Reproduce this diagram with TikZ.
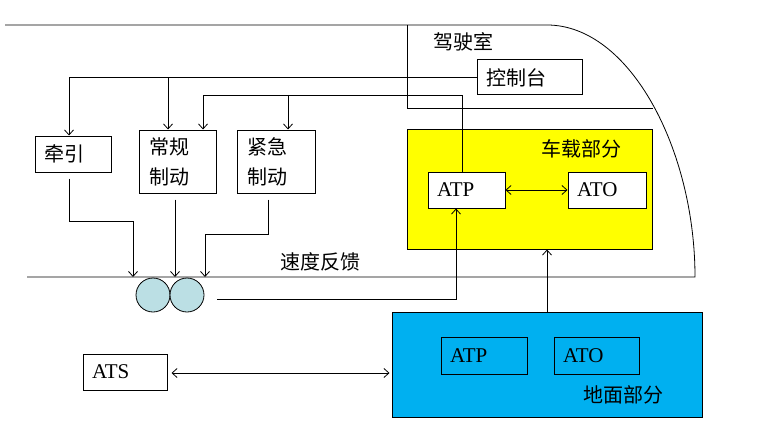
\documentclass[tikz,border=0pt]{standalone}
\usepackage{fontspec}
\setmainfont{Liberation Serif}
\newfontfamily\cjk{Noto Sans CJK SC}
\usetikzlibrary{arrows.meta}
\definecolor{groundblue}{HTML}{00B0F0}
\definecolor{onboardyellow}{HTML}{FFFF00}
\definecolor{wheelblue}{HTML}{BBDFE4}

\begin{document}
\begin{tikzpicture}[x=1pt,y=-1pt,>={Straight Barb[length=5pt,width=9pt]},
  line width=0.8pt,
  zh/.style={font=\cjk\fontsize{20}{30}\selectfont},
  en/.style={font=\fontsize{21}{24}\selectfont},
  box/.style={draw,line width=1pt,fill=white,align=left,inner xsep=9pt,inner ysep=0pt},
  wheel/.style={circle,draw,fill=wheelblue,minimum size=34pt,inner sep=0pt}]
\useasboundingbox (0,0) rectangle (759,441);

% train body and cab
  \draw (5,25) -- (547,25) .. controls (630,25) and (695,150) .. (695,277) -- (27,277);
  \draw (407,25) -- (407,108) -- (653,108);
  \node[zh] (cab) at (463,42) {驾驶室};

% define the boxes
  \node[box,zh,text width=87pt,minimum height=35pt] (console) at (529.5,77.5) {控制台};
  \node[box,zh,text width=58pt,minimum height=36pt] (traction) at (73,154) {牵引};
  \node[box,zh,inner xsep=10pt,text width=57pt,minimum height=63pt] (service) at (177.5,161.5) {常规\\制动};
  \node[box,zh,inner xsep=10pt,text width=58pt,minimum height=63pt] (emergency) at (276,161.5) {紧急\\制动};

  \node[draw,line width=1pt,fill=onboardyellow,minimum width=245pt,minimum height=120pt] (onboard) at (529.5,189) {};
  \node[zh] (onboardlbl) at (581,149) {车载部分};
  \node[box,en,text width=59pt,minimum height=36pt] (atp) at (466.5,190) {ATP};
  \node[box,en,text width=60pt,minimum height=36pt] (ato) at (607,190) {ATO};

  \node[draw,line width=1pt,fill=groundblue,minimum width=310pt,minimum height=105pt] (ground) at (547,364.5) {};
  \node[zh] (groundlbl) at (623,395) {地面部分};
  \node[box,en,fill=none,text width=68pt,minimum height=37pt] (gatp) at (484,355.5) {ATP};
  \node[box,en,fill=none,text width=67pt,minimum height=37pt] (gato) at (596.5,355.5) {ATO};

  \node[box,en,text width=66pt,minimum height=36pt] (ats) at (125,372) {ATS};

% wheels
  \node[wheel] (w1) at (153,295) {};
  \node[wheel] (w2) at (187,295) {};
  \node[zh] (feedback) at (320,262) {速度反馈};

  \coordinate (ctl) at (462,95);
  \coordinate (r1) at (133,277);
  \coordinate (r2) at (175,277);
  \coordinate (r3) at (205,277);

% define the links
  \draw[->] (console.west) -| ([xshift=-4pt]traction.north);
  \draw[->] ([xshift=-9.5pt]service.north |- console.west) -- ([xshift=-9.5pt]service.north);
  \draw[->] ([xshift=-4.5pt]atp.north) -- (ctl) -| ([xshift=25.5pt]service.north);
  \draw[->] ([xshift=12pt]emergency.north |- ctl) -- ([xshift=12pt]emergency.north);

  \draw[->] ([xshift=-4pt,yshift=-6pt]traction.south) |- ++(64,43) -- (r1);
  \draw[->] ([xshift=-2.5pt,yshift=-6pt]service.south) -- (r2);
  \draw[->] ([xshift=-8pt,yshift=-6pt]emergency.south) |- ++(-63,35) -- (r3);

  \draw[->] ([xshift=13pt,yshift=-4pt]w2.east) -| ([xshift=-10.5pt]atp.south);
  \draw[<->] (atp) -- (ato);
  \draw[->] (ground.north) -- (ground.north |- onboard.south);
  \draw[<->,shorten <=4pt,shorten >=2pt] ([yshift=-1pt]ats.east) -- ([yshift=-1pt]ats.east -| ground.west);
\end{tikzpicture}
\end{document}
